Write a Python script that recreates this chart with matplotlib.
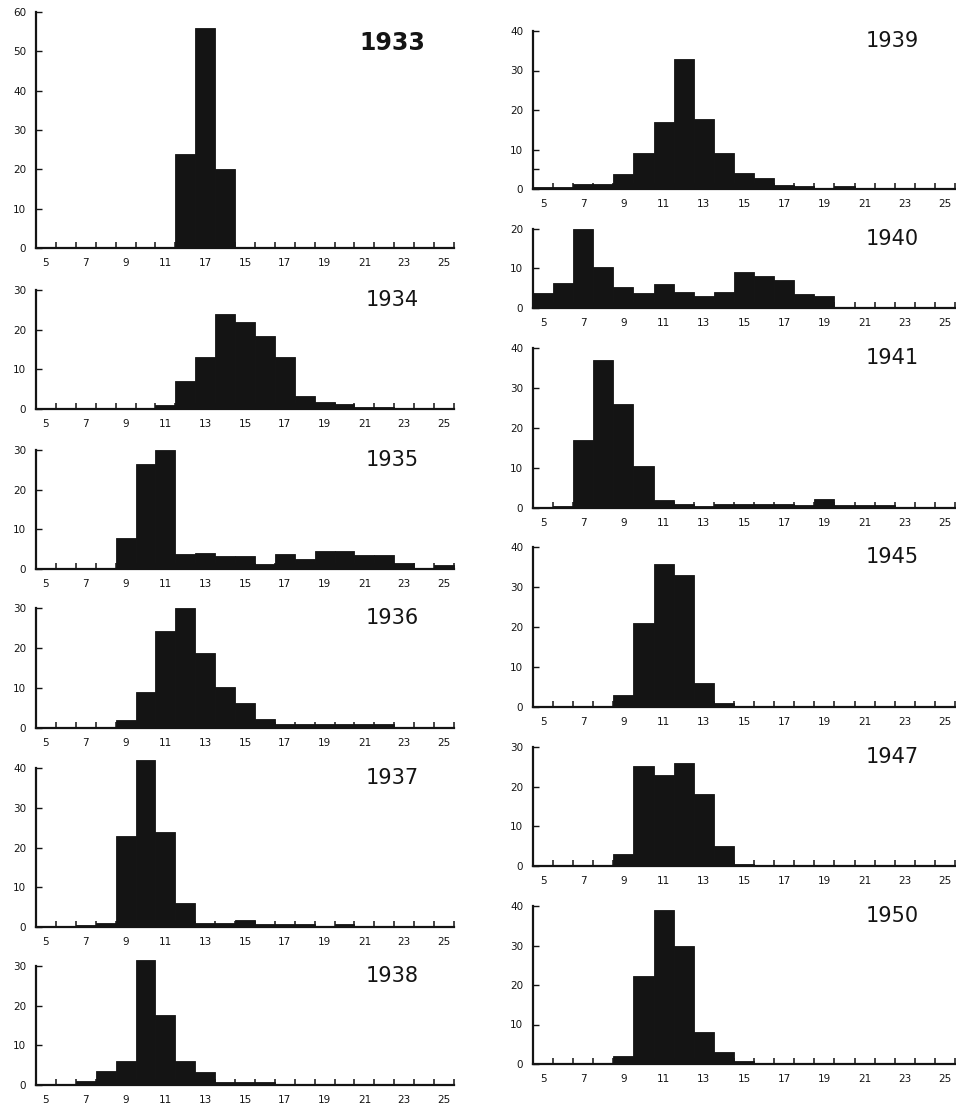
import numpy as np
import matplotlib
matplotlib.use("Agg")
import matplotlib.pyplot as plt
from matplotlib.ticker import FixedLocator

# %% DATA  (frequency per size class 5..25)
size_classes = list(range(5, 26))

f1933 = [0, 0, 0, 0, 0, 0, 0, 24, 56, 20, 0, 0, 0, 0, 0, 0, 0, 0, 0, 0, 0]
f1934 = [0, 0, 0, 0, 0, 0, 1, 7, 13, 24, 22, 18.5, 13, 3.3, 1.7, 1.2, 0.6, 0.6, 0, 0, 0]
f1935 = [0, 0, 0, 0, 7.7, 26.5, 30, 3.7, 4.1, 3.2, 3.2, 1.2, 3.9, 2.4, 4.5, 4.5, 3.5, 3.5, 1.4, 0, 0.9]
f1936 = [0, 0, 0, 0, 2.1, 9, 24.2, 30, 18.7, 10.2, 6.2, 2.3, 0.9, 0.9, 0.9, 0.9, 0.9, 0.9, 0, 0, 0]
f1937 = [0, 0, 0.6, 1.1, 23, 42, 24, 6, 1.1, 1.1, 1.8, 0.7, 0.7, 0.7, 0, 0.8, 0, 0, 0, 0, 0]
f1938 = [0, 0, 1.1, 3.6, 6, 31.6, 17.6, 6.1, 3.2, 0.8, 0.8, 0.8, 0, 0, 0, 0, 0, 0, 0, 0, 0]
f1939 = [0.4, 0.4, 1.3, 1.3, 3.8, 9, 17, 33, 17.6, 9.1, 4, 2.9, 1.1, 0.7, 0.2, 0.7, 0, 0, 0, 0, 0]
f1940 = [3.8, 6.3, 20, 10.4, 5.3, 3.8, 6.1, 4, 3, 4, 9, 8, 7.2, 3.5, 3.1, 0, 0, 0, 0, 0, 0]
f1941 = [0, 0.4, 17, 36.9, 25.9, 10.5, 2.1, 1.1, 0.5, 1.1, 1.1, 1.1, 1.1, 0.75, 2.3, 0.75, 0.75, 0.75, 0, 0, 0]
f1945 = [0, 0, 0, 0.35, 2.9, 20.9, 35.8, 32.9, 6.1, 1.1, 0, 0, 0, 0, 0, 0, 0, 0, 0, 0, 0]
f1947 = [0, 0, 0, 0, 2.9, 25.1, 23, 26, 18.1, 5, 0.6, 0, 0, 0, 0, 0, 0, 0, 0, 0, 0]
f1950 = [0, 0, 0, 0, 2, 22.4, 39, 30, 8.2, 3.1, 0.8, 0, 0, 0, 0, 0, 0, 0, 0, 0, 0]

years = ["1933", "1934", "1935", "1936", "1937", "1938",
         "1939", "1940", "1941", "1945", "1947", "1950"]
freqs = [f1933, f1934, f1935, f1936, f1937, f1938,
         f1939, f1940, f1941, f1945, f1947, f1950]
y_max = [60, 30, 30, 30, 40, 30, 40, 20, 40, 40, 30, 40]

x_label_pos = list(range(5, 26, 2))
x_labels = [str(v) for v in x_label_pos]
x_labels_1933 = ["5", "7", "9", "11", "17", "15", "17", "19", "21", "23", "25"]  # misprint in original

# %% LAYOUT (pixel positions measured on the 956x1108 scan)
W, H = 956, 1108
col_x = {"L": (36, 454), "R": (533, 955)}
panel_col = ["L"] * 6 + ["R"] * 6
panel_top = [12, 290, 450, 608, 768, 966, 31, 229, 348, 547, 747, 906]
panel_base = [248, 409, 569, 728, 927, 1085, 189, 308, 508, 707, 866, 1064]

INK = "#141414"

fig = plt.figure(figsize=(W / 100, H / 100), dpi=100)
fig.patch.set_facecolor("white")

for i, year in enumerate(years):
    x0, x1 = col_x[panel_col[i]]
    top, base = panel_top[i], panel_base[i]
    ax = fig.add_axes([x0 / W, 1 - base / H, (x1 - x0) / W, (base - top) / H])

    ax.bar(size_classes, freqs[i], width=1.0, color=INK, edgecolor=INK,
           linewidth=0.6, clip_on=False, zorder=2)

    ax.set_xlim(4.5, 25.5)
    ax.set_ylim(0, y_max[i])

    for s in ["top", "right"]:
        ax.spines[s].set_visible(False)
    for s in ["left", "bottom"]:
        ax.spines[s].set_linewidth(1.6)
        ax.spines[s].set_color(INK)
        ax.spines[s].set_zorder(3)

    # labels on the class centres, tick marks on the class limits
    ax.xaxis.set_major_locator(FixedLocator(x_label_pos))
    ax.set_xticklabels(x_labels_1933 if year == "1933" else x_labels)
    ax.xaxis.set_minor_locator(FixedLocator(np.arange(5.5, 25.6, 1.0)))
    ax.tick_params(axis="x", which="major", length=0, pad=7, labelsize=7.5,
                   labelcolor=INK)
    ax.tick_params(axis="x", which="minor", direction="in", length=4.5,
                   width=1.1, color=INK)

    ax.set_yticks(np.arange(0, y_max[i] + 1, 10))
    ax.tick_params(axis="y", direction="in", length=4.5, width=1.0, pad=7,
                   labelsize=7.5, color=INK, labelcolor=INK)
    if year == "1939":
        ax.yaxis.set_minor_locator(FixedLocator([5]))
        ax.tick_params(axis="y", which="minor", direction="in", length=4.5,
                       width=1.0, color=INK)

    off = -31 if year == "1933" else -10
    ax.annotate(year, xy=(22.4, 1.0), xycoords=("data", "axes fraction"),
                xytext=(0, off * 0.72), textcoords="offset points",
                ha="center", va="center", color=INK,
                fontsize=17 if year == "1933" else 15,
                fontweight="bold" if year == "1933" else "normal")

fig.savefig("out.png", dpi=100, facecolor="white")
